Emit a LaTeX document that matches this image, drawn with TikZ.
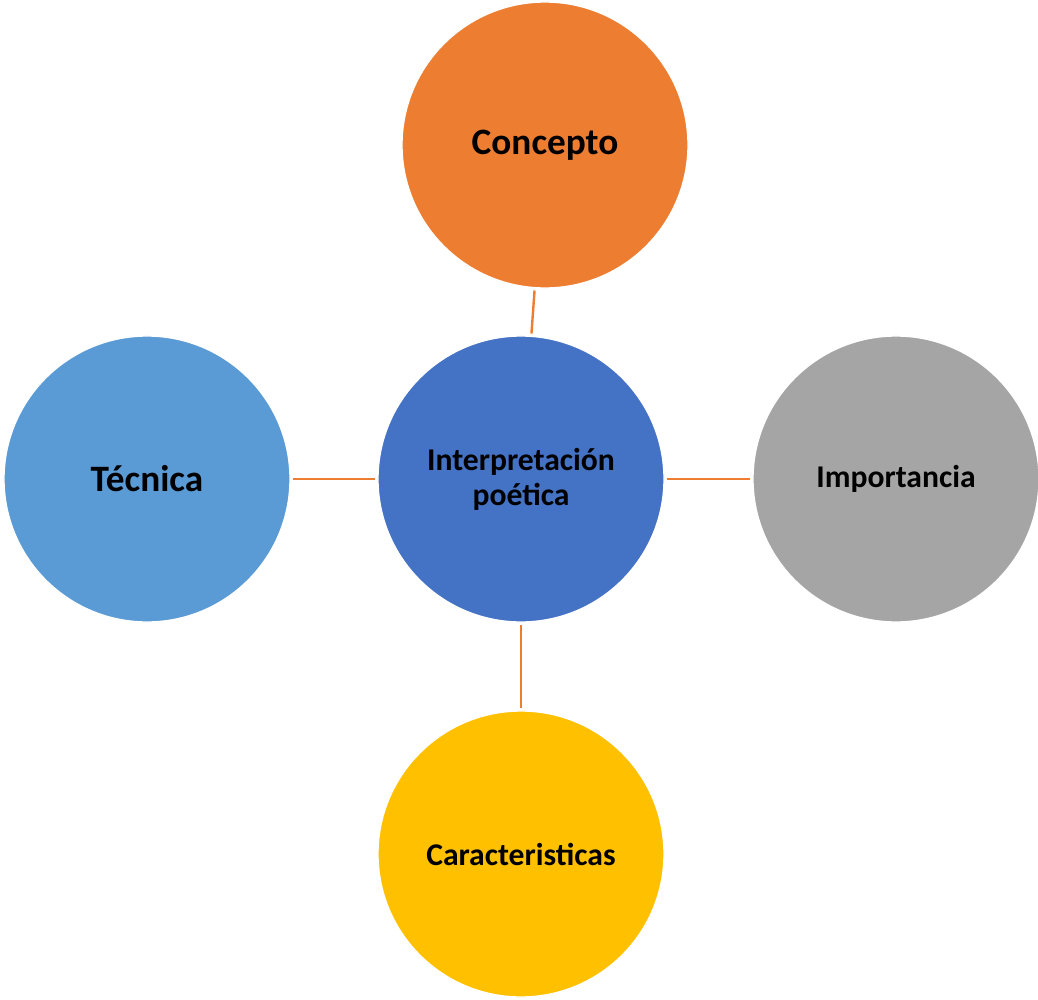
\documentclass[tikz,border=0pt]{standalone}
\usepackage{fontspec}
\setmainfont{Carlito}
\usetikzlibrary{positioning}
\definecolor{naranja}{HTML}{ED7D31}
\definecolor{azul}{HTML}{4472C4}
\definecolor{celeste}{HTML}{5B9BD5}
\definecolor{gris}{HTML}{A5A5A5}
\definecolor{oro}{HTML}{FFC000}
\begin{document}
\begin{tikzpicture}[x=0.025cm, y=-0.025cm,
		burbuja/.style={circle, draw=white, line width=1pt, minimum size=7.15cm, inner sep=0pt, align=center, font=\bfseries\fontsize{22.5}{25}\selectfont},
		enlace/.style={draw=naranja, line width=1.7pt, shorten >=1.5pt, shorten <=1.5pt}]
		\useasboundingbox (0,0) rectangle (1038,999);
		% Circulos
		\node[burbuja, fill=azul] (centro) at (521,479) {Interpretación\\poética};
		\node[burbuja, fill=naranja, font=\bfseries\fontsize{26.5}{28}\selectfont] (concepto) at (545,145) {Concepto};
		\node[burbuja, fill=celeste, font=\bfseries\fontsize{26.5}{28}\selectfont] (tecnica) at (147,479) {Técnica};
		\node[burbuja, fill=gris] (importancia) at (896,479) {Importancia};
		\node[burbuja, fill=oro] (caract) at (521,854) {Caracteristicas};

		% Lineas
		\draw[enlace] (centro) -- (concepto);
		\draw[enlace] (centro) -- (tecnica);
		\draw[enlace] (centro) -- (importancia);
		\draw[enlace] (centro) -- (caract);
	\end{tikzpicture}
\end{document}
